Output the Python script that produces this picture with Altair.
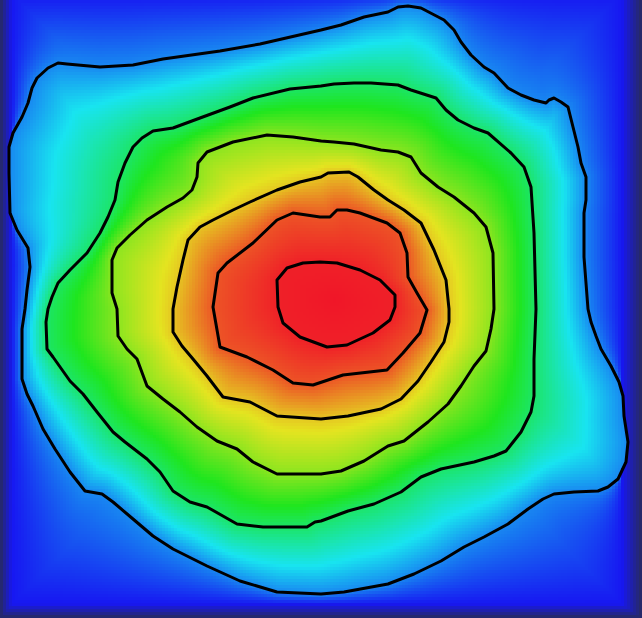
import numpy as np
import pandas as pd
import altair as alt

alt.data_transformers.disable_max_rows()

W, H = 642, 618
CELL = 3

# Contour lines (pixel coordinates, y downward)
contour_1 = [(321,30),(341,25),(364,17),(388,12),(398,7),(408,6),(421,8),(444,20),(454,30),(461,42),(471,55),(484,67),(494,73),(508,88),(521,95),(534,100),(546,103),(549,100),(554,98),(561,102),(568,107),(573,127),(578,147),(581,163),(586,177),(586,200),(584,213),(584,257),(586,283),(588,309),(591,322),(596,336),(601,349),(611,366),(619,382),(623,396),(624,416),(628,442),(626,462),(618,479),(608,487),(598,491),(574,492),(554,494),(543,499),(528,509),(508,524),(484,537),(464,547),(441,561),(414,574),(388,584),(344,592),(321,594),(277,592),(240,581),(207,566),(173,549),(153,536),(133,519),(113,502),(102,494),(85,491),(70,472),(55,449),(43,429),(33,406),(27,394),(22,379),(22,329),(25,309),(27,290),(30,267),(28,248),(17,230),(10,213),(9,173),(9,147),(13,133),(22,117),(28,103),(32,88),(37,78),(48,68),(58,63),(67,64),(100,67),(133,65),(163,59),(220,51),(260,44)]
contour_2 = [(321,86),(334,84),(354,83),(371,83),(398,85),(411,90),(436,98),(446,110),(458,120),(474,128),(488,133),(511,153),(524,167),(531,187),(534,233),(536,309),(534,359),(534,396),(531,412),(521,432),(506,451),(494,456),(474,462),(441,469),(421,477),(401,492),(374,504),(348,511),(321,521),(315,522),(307,527),(263,527),(237,524),(207,507),(190,502),(173,491),(160,472),(147,459),(125,442),(113,432),(97,412),(83,394),(70,381),(53,357),(47,349),(46,322),(48,309),(52,297),(58,283),(70,270),(87,253),(100,233),(108,217),(115,200),(118,182),(125,163),(133,147),(142,138),(153,131),(173,128),(200,118),(230,107),(253,98),(290,89)]
contour_3 = [(321,141),(334,142),(354,144),(381,150),(398,152),(411,157),(421,173),(438,187),(454,197),(474,213),(486,227),(493,253),(494,309),(491,329),(486,351),(474,366),(461,386),(448,404),(428,422),(404,441),(388,446),(364,461),(341,471),(321,474),(277,474),(253,462),(237,449),(217,441),(197,427),(180,412),(163,399),(147,386),(137,359),(127,349),(118,336),(117,309),(112,293),(112,260),(117,248),(130,235),(147,220),(167,207),(183,198),(192,190),(197,177),(198,163),(207,152),(233,142),(267,135),(293,137)]
contour_4 = [(321,177),(328,173),(349,172),(358,177),(374,190),(388,200),(404,210),(421,223),(434,250),(446,280),(449,309),(449,322),(444,342),(431,362),(418,381),(401,399),(381,409),(348,416),(321,419),(277,416),(250,402),(223,397),(207,376),(193,359),(182,346),(173,332),(173,309),(177,287),(183,260),(188,240),(200,227),(213,220),(233,210),(250,202),(277,190),(300,182)]
contour_5 = [(337,210),(347,210),(360,213),(387,223),(400,233),(407,253),(408,277),(417,293),(427,310),(420,333),(403,353),(387,370),(343,375),(313,385),(293,383),(273,370),(247,357),(220,347),(213,307),(218,273),(227,263),(253,243),(277,220),(293,213),(320,217),(330,217)]
contour_6 = [(320,262),(337,263),(360,270),(380,280),(395,295),(395,307),(390,320),(373,333),(347,345),(327,347),(300,337),(283,323),(278,307),(277,280),(287,268),(303,263)]

contours = [contour_1, contour_2, contour_3, contour_4, contour_5, contour_6]
levels = [1.55, 2.65, 3.55, 4.15, 4.7, 4.95]
peak_point = (335, 300)
peak_level = 5.0
frame_level = 1.0          # blue just inside the border
border_level = 0.15        # dark fringe at left/right/bottom borders
frame_left, frame_right, frame_bottom = 12, W - 20, H - 14

color_stops = [0, 1, 2, 3, 4, 5]
color_range = ["#2a2e45", "#1717f2", "#18e4f0", "#1ee61e", "#e4e420", "#f01628"]

# ---- field derived from the traced contours ----
gx = np.arange(0, W, CELL) + CELL / 2
gy = np.arange(0, H, CELL) + CELL / 2
PX, PY = np.meshgrid(gx, gy)
px, py = PX.ravel(), PY.ravel()


def seg_dist(poly):
    P = np.array(poly + [poly[0]], float)
    d = np.full(px.shape, np.inf)
    for (x1, y1), (x2, y2) in zip(P[:-1], P[1:]):
        dx, dy = x2 - x1, y2 - y1
        L2 = dx * dx + dy * dy
        if L2 == 0:
            continue
        t = np.clip(((px - x1) * dx + (py - y1) * dy) / L2, 0, 1)
        d = np.minimum(d, np.hypot(px - x1 - t * dx, py - y1 - t * dy))
    return d


def inside(poly):
    P = np.array(poly, float)
    n = len(P)
    res = np.zeros(px.shape, bool)
    j = n - 1
    with np.errstate(divide="ignore", invalid="ignore"):
        for i in range(n):
            xi, yi = P[i]
            xj, yj = P[j]
            cond = ((yi > py) != (yj > py)) & (px < (xj - xi) * (py - yi) / (yj - yi) + xi)
            res ^= cond
            j = i
    return res


D = [seg_dist(c) for c in contours]
I = np.array([inside(c) for c in contours])
k = I.sum(axis=0)
v = np.zeros(px.shape)

in_frame = (px >= frame_left) & (px <= frame_right) & (py <= frame_bottom)
d_frame = np.minimum.reduce([px - frame_left, frame_right - px, frame_bottom - py, py + 6])
d_frame = np.maximum(d_frame, 0)

m = (k == 0) & in_frame
v[m] = frame_level + (levels[0] - frame_level) * d_frame[m] / (d_frame[m] + D[0][m])

m = (k == 0) & ~in_frame
t = np.maximum.reduce([(frame_left - px) / frame_left,
                       (px - frame_right) / (W - frame_right),
                       (py - frame_bottom) / (H - frame_bottom)])
t = np.clip(t, 0, 1)
v[m] = frame_level - (frame_level - border_level) * t[m]

for b in range(1, 6):
    m = k == b
    a, c = levels[b - 1], levels[b]
    v[m] = a + (c - a) * D[b - 1][m] / (D[b - 1][m] + D[b][m])

m = k == 6
dc = np.hypot(px - peak_point[0], py - peak_point[1])
v[m] = levels[5] + (peak_level - levels[5]) * D[5][m] / (D[5][m] + dc[m] + 1e-9)

heat_df = pd.DataFrame({
    "x": (px - CELL / 2).astype(int),
    "y": (py - CELL / 2).astype(int),
    "v": np.round(v, 3),
})

rows = []
for ci, c in enumerate(contours):
    pts = c + [c[0]]
    for i, (x, y) in enumerate(pts):
        rows.append({"contour": ci + 1, "i": i, "x": x, "y": y})
line_df = pd.DataFrame(rows)

xs = alt.Scale(domain=[0, W], nice=False, zero=False)
ys = alt.Scale(domain=[0, H], nice=False, zero=False, reverse=True)

heat = alt.Chart(heat_df).transform_calculate(
    x2=f"datum.x + {CELL}", y2=f"datum.y + {CELL}"
).mark_rect(strokeWidth=0).encode(
    x=alt.X("x:Q", scale=xs, axis=None),
    x2="x2:Q",
    y=alt.Y("y:Q", scale=ys, axis=None),
    y2="y2:Q",
    color=alt.Color("v:Q", scale=alt.Scale(domain=color_stops, range=color_range, interpolate="rgb"), legend=None),
)

lines = alt.Chart(line_df).mark_line(color="black", strokeWidth=3, strokeJoin="round", strokeCap="round").encode(
    x=alt.X("x:Q", scale=xs, axis=None),
    y=alt.Y("y:Q", scale=ys, axis=None),
    detail="contour:N",
    order="i:Q",
)

chart = (heat + lines).properties(width=W, height=H, padding=0).configure_view(stroke=None)
chart.save("out.html", embed_options={"renderer": "svg", "actions": False})
